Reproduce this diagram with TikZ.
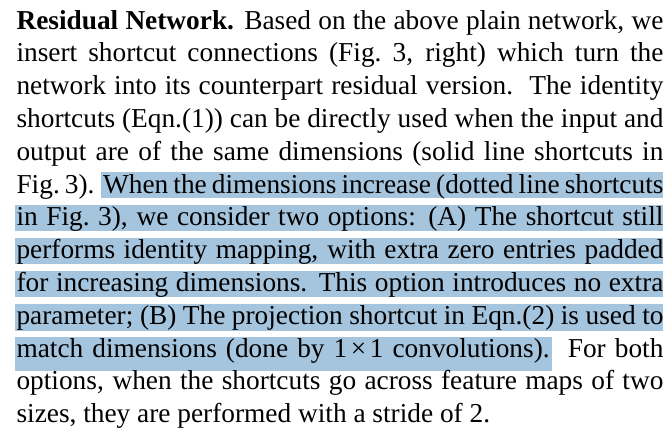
\documentclass[tikz,border=0pt]{standalone}
\usepackage{fontspec}
\setmainfont{Liberation Serif}
\usepackage{tikz}
\usetikzlibrary{positioning,calc}
\definecolor{hlblu}{RGB}{165,196,221}
\tikzstyle{riga} = [inner sep=0pt, anchor=base west, font=\fontsize{10}{12}\selectfont]
\tikzstyle{evid} = [fill=hlblu, draw=none]
\newcommand{\giust}[1]{\makebox[236.7pt][s]{#1}}

\begin{document}
\begin{tikzpicture}[x=0.3659pt, y=-0.3659pt]
	\useasboundingbox (0,0) rectangle (670,436);
	% evidenziato
	\fill[evid] (101,172.3) rectangle (663.3,198.3);
	\fill[evid] (15,205) rectangle (663.3,231);
	\fill[evid] (15,237.7) rectangle (663.3,264);
	\fill[evid] (15,271) rectangle (663.3,297);
	\fill[evid] (15,304) rectangle (663.3,330.7);
	\fill[evid] (15,336.5) rectangle (551.7,370.5);
	% testo
	\node (l1) at (16,29) [riga] {\giust{\textbf{Residual Network.} Based on the above plain network, we}};
	\node (l2) at (16,61.8) [riga] {\giust{insert shortcut connections (Fig.\ 3, right) which turn the}};
	\node (l3) at (16,94.6) [riga] {\giust{network into its counterpart residual version.\ \ The identity}};
	\node (l4) at (16,127.4) [riga] {\giust{shortcuts (Eqn.(1)) can be directly used when the input and}};
	\node (l5) at (16,160.2) [riga] {\giust{output are of the same dimensions (solid line shortcuts in}};
	\node (l6) at (16,193) [riga] {\giust{Fig.\ 3). When the dimensions increase (dotted line shortcuts}};
	\node (l7) at (16,225.8) [riga] {\giust{in Fig.\ 3), we consider two options: (A) The shortcut still}};
	\node (l8) at (16,258.6) [riga] {\giust{performs identity mapping, with extra zero entries padded}};
	\node (l9) at (16,291.4) [riga] {\giust{for increasing dimensions. This option introduces no extra}};
	\node (l10) at (16,324.2) [riga] {\giust{parameter; (B) The projection shortcut in Eqn.(2) is used to}};
	\node (l11) at (16,357) [riga] {\giust{match dimensions (done by 1\kern1.3pt×\kern1.3pt1 convolutions).\ \ For both}};
	\node (l12) at (16,389.8) [riga] {\giust{options, when the shortcuts go across feature maps of two}};
	\node (l13) at (16,422.6) [riga] {sizes, they are performed with a stride of 2.};
\end{tikzpicture}
\end{document}
